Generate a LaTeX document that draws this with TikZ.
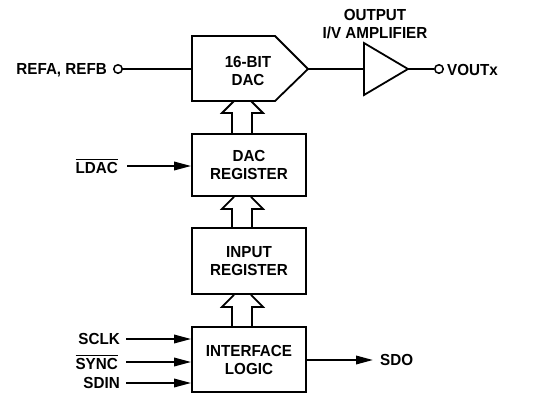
\documentclass[tikz,border=0pt]{standalone}
\usepackage{fontspec}
\setmainfont{Liberation Sans}[FakeStretch=0.95]
\usetikzlibrary{arrows.meta,calc}
\newcommand\barred[1]{\leavevmode\setbox0\hbox{#1}\rlap{\rule[\dimexpr\ht0+1.8pt\relax]{\wd0}{1.2pt}}\box0}
\newcommand\busup[2]{%
  \draw[wire] ($(#1.north)+(-17,0)$) -- ($(#2)+(-17,12)$) -- ++(-10,0) -- ($(#2)+(-15,0)$);
  \draw[wire] ($(#1.north)+(3,0)$) -- ($(#2)+(3,12)$) -- ++(11,0) -- ($(#2)+(2,0)$);}
\begin{document}
\begin{tikzpicture}[x=1pt,y=-1pt,
  every node/.style={font=\fontsize{16}{18}\selectfont\bfseries, align=center},
  wire/.style={line width=1.8pt, line join=miter},
  sig/.style={wire, -{Triangle[length=17pt,width=8.5pt]}},
  blk/.style={draw, line width=1.8pt, minimum width=114pt, inner sep=0pt},
  pin/.style={circle, draw, line width=1.5pt, fill=white, minimum size=8.5pt, inner sep=0pt},
  lbl/.style={inner sep=0pt}]
\useasboundingbox (0,0) rectangle (541,394);
% 16-bit DAC
\draw[wire] (192,36) -- (275,36) -- (308,69) -- (275,101) -- (192,101) -- cycle;
\node (dac) at (248,71) {16-BIT\\DAC};
\coordinate (dacin) at (192,69);
\coordinate (dacout) at (308,69);
\coordinate (dacbot) at (249,101);
% amplifier
\draw[wire] (364,43) -- (408,69) -- (364,95) -- cycle;
\coordinate (ampin) at (364,69);
\coordinate (ampout) at (408,69);
\node (amplbl) at (375,24) {OUTPUT\\I/V AMPLIFIER};
% pins
\node[pin] (refc) at (118,69) {};
\node[lbl, anchor=east] (ref) at (107,70) {REFA, REFB};
\node[pin] (voutc) at (439,69) {};
\node[lbl, anchor=west] (vout) at (447,70) {VOUTx};
\draw[wire] (refc) -- (dacin);
\draw[wire] (dacout) -- (ampin);
\draw[wire] (ampout) -- (voutc);
% blocks
\node[blk, minimum height=62pt] (dacreg) at (249,165) {DAC\\REGISTER};
\node[blk, minimum height=66pt] (inreg) at (249,261) {INPUT\\REGISTER};
\node[blk, minimum height=65pt] (iface) at (249,359.5) {INTERFACE\\LOGIC};
% bus arrows
\busup{dacreg}{dacbot}
\busup{inreg}{dacreg.south}
\busup{iface}{inreg.south}
% control signals
\node[lbl, anchor=east] (ldac) at (118,166) {\barred{LDAC}};
\draw[sig] ($(ldac.east)+(9,0)$) -- (dacreg.west |- ldac.east);
\node[lbl, anchor=east] (sclk) at (120,339) {SCLK};
\draw[sig] ($(sclk.east)+(6,0)$) -- (iface.west |- sclk.east);
\node[lbl, anchor=east] (sync) at (118,362) {\barred{SYNC}};
\draw[sig] ($(sync.east)+(8,0)$) -- (iface.west |- sync.east);
\node[lbl, anchor=east] (sdin) at (120,383) {SDIN};
\draw[sig] ($(sdin.east)+(6,0)$) -- (iface.west |- sdin.east);
\node[lbl, anchor=west] (sdo) at (380,360) {SDO};
\draw[sig] (iface.east |- sdo.west) -- ($(sdo.west)+(-7,0)$);
\end{tikzpicture}
\end{document}
